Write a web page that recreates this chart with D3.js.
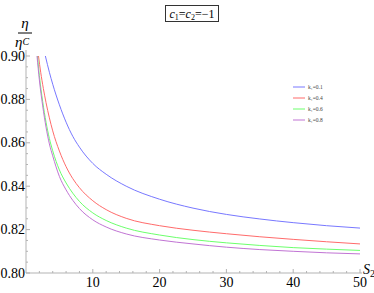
<!DOCTYPE html>
<html>
<head>
<meta charset="utf-8">
<script src="https://cdn.jsdelivr.net/npm/d3@7"></script>
<style>
  body { margin: 0; background: #fff; }
</style>
</head>
<body>
<div id="chart"></div>
<script>
// ---------------- data ----------------
const seriesNames = ["k\u2081=0.1", "k\u2081=0.4", "k\u2081=0.6", "k\u2081=0.8"]
const seriesColors = ["#7878ff", "#ff6b6b", "#6cff6c", "#c174d4"]

const s2_k01 = [2.9, 3.5, 4, 5, 6, 7, 8, 10, 12, 15, 20, 25, 30, 35, 40, 45, 50]
const eta_k01 = [0.900, 0.8925, 0.887, 0.8775, 0.8695, 0.8630, 0.8580, 0.8505, 0.8455, 0.8400, 0.8340, 0.8299, 0.8270, 0.8249, 0.8232, 0.8218, 0.8207]

const s2_k04 = [1.87, 2.2, 2.6, 3, 3.5, 4, 5, 6, 7, 8, 10, 12, 15, 20, 25, 30, 35, 40, 45, 50]
const eta_k04 = [0.900, 0.8925, 0.885, 0.8785, 0.8715, 0.8655, 0.8562, 0.8490, 0.8435, 0.8393, 0.8333, 0.8292, 0.8252, 0.8218, 0.8197, 0.8181, 0.8167, 0.8155, 0.8144, 0.8134]

const s2_k06 = [1.72, 2, 2.5, 3, 3.5, 4, 5, 6, 7, 8, 10, 12, 15, 20, 25, 30, 35, 40, 45, 50]
const eta_k06 = [0.900, 0.891, 0.879, 0.8695, 0.862, 0.8563, 0.8475, 0.8415, 0.8368, 0.8330, 0.8277, 0.8242, 0.8207, 0.8175, 0.8154, 0.8139, 0.8127, 0.8117, 0.8110, 0.8104]

const s2_k08 = [1.65, 2, 2.5, 3, 3.5, 4, 5, 6, 7, 8, 10, 12, 15, 20, 25, 30, 35, 40, 45, 50]
const eta_k08 = [0.900, 0.889, 0.877, 0.8672, 0.8595, 0.854, 0.8445, 0.8383, 0.8335, 0.8297, 0.8245, 0.8212, 0.8180, 0.8152, 0.8134, 0.8119, 0.8108, 0.8100, 0.8093, 0.8088]

const xTicks = [10, 20, 30, 40, 50]
const yTicks = [0.80, 0.82, 0.84, 0.86, 0.88, 0.90]

// ---------------- layout ----------------
const WIDTH = 374
const HEIGHT = 293
const X0 = 26, X1 = 360
const Y_TOP = 56, Y_BOT = 273

const svg = d3.select("#chart").append("svg")
  .attr("width", WIDTH)
  .attr("height", HEIGHT)
  .attr("font-family", "Liberation Serif, Times New Roman, serif")

const x = d3.scaleLinear().domain([0, 50]).range([X0, X1])
const y = d3.scaleLinear().domain([0.80, 0.90]).range([Y_BOT, Y_TOP])

const axisColor = "#b3b3b3"

// clip so the curves stop at the frame
svg.append("clipPath").attr("id", "clip")
  .append("rect").attr("x", X0).attr("y", Y_TOP - 4).attr("width", X1 - X0 + 2).attr("height", Y_BOT - Y_TOP + 4)

// axes lines
svg.append("line").attr("x1", X0).attr("x2", X1 + 2).attr("y1", Y_BOT).attr("y2", Y_BOT)
  .attr("stroke", axisColor).attr("stroke-width", 1)
svg.append("line").attr("x1", X0).attr("x2", X0).attr("y1", Y_BOT).attr("y2", Y_TOP - 6)
  .attr("stroke", axisColor).attr("stroke-width", 1)

// minor + major ticks, pointing into the plot
const xMinor = d3.range(2, 51, 2)
svg.selectAll(".xminor").data(xMinor).enter().append("line")
  .attr("x1", d => x(d)).attr("x2", d => x(d))
  .attr("y1", Y_BOT).attr("y2", d => Y_BOT - (d % 10 === 0 ? 4 : 2))
  .attr("stroke", axisColor)
const yMinor = d3.range(0.80, 0.9001, 0.005)
svg.selectAll(".yminor").data(yMinor).enter().append("line")
  .attr("y1", d => y(d)).attr("y2", d => y(d))
  .attr("x1", X0).attr("x2", d => X0 + (Math.abs(Math.round(d * 1000) % 20) === 0 ? 4 : 2))
  .attr("stroke", axisColor)

// tick labels
svg.selectAll(".xlab").data(xTicks).enter().append("text")
  .attr("x", d => x(d)).attr("y", Y_BOT + 14)
  .attr("text-anchor", "middle").attr("font-size", 14)
  .text(d => d)
svg.selectAll(".ylab").data(yTicks).enter().append("text")
  .attr("x", X0 - 1).attr("y", d => y(d) + 4.5)
  .attr("text-anchor", "end").attr("font-size", 14)
  .text(d => d.toFixed(2))

// axis titles
svg.append("text").attr("x", X1 + 3).attr("y", Y_BOT + 1)
  .attr("font-size", 14).attr("font-style", "italic")
  .html('S<tspan font-size="10" dy="3" font-style="normal">2</tspan>')

svg.append("text").attr("x", 25).attr("y", 28).attr("text-anchor", "middle")
  .attr("font-size", 15).attr("font-style", "italic").text("\u03b7")
svg.append("line").attr("x1", 18).attr("x2", 32).attr("y1", 33).attr("y2", 33)
  .attr("stroke", "#000").attr("stroke-width", 1)
svg.append("text").attr("x", 22).attr("y", 47).attr("text-anchor", "middle")
  .attr("font-size", 15).attr("font-style", "italic")
  .html('\u03b7<tspan font-size="10" dy="-2">C</tspan>')

// title box
const title = svg.append("text").attr("x", 192).attr("y", 18).attr("text-anchor", "middle")
  .attr("font-size", 12)
title.append("tspan").attr("font-style", "italic").text("c")
title.append("tspan").attr("font-size", 8).attr("dy", 2).text("1")
title.append("tspan").attr("dy", -2).text("=")
title.append("tspan").attr("font-style", "italic").text("c")
title.append("tspan").attr("font-size", 8).attr("dy", 2).text("2")
title.append("tspan").attr("dy", -2).text("=\u22121")
svg.append("rect").attr("x", 165.5).attr("y", 5.5).attr("width", 53).attr("height", 16)
  .attr("fill", "none").attr("stroke", "#333").attr("stroke-width", 1)

// curves
const series = [
  { s: s2_k01, v: eta_k01 },
  { s: s2_k04, v: eta_k04 },
  { s: s2_k06, v: eta_k06 },
  { s: s2_k08, v: eta_k08 }
]
const line = d3.line()
  .x(d => x(d[0]))
  .y(d => y(d[1]))
  .curve(d3.curveMonotoneX)

series.forEach(function (ser, i) {
  const pts = ser.s.map((s, j) => [s, ser.v[j]])
  svg.append("path")
    .attr("d", line(pts))
    .attr("fill", "none")
    .attr("stroke", seriesColors[i])
    .attr("stroke-width", 1)
    .attr("clip-path", "url(#clip)")
})

// legend
const legend = svg.append("g").attr("transform", "translate(293,87)")
seriesNames.forEach(function (name, i) {
  const g = legend.append("g").attr("transform", `translate(0,${i * 11})`)
  g.append("line").attr("x1", 0).attr("x2", 12).attr("y1", 0).attr("y2", 0)
    .attr("stroke", seriesColors[i]).attr("stroke-width", 1)
  g.append("text").attr("x", 15).attr("y", 2).attr("font-size", 5.5)
    .attr("fill", "#444").text(name)
})
</script>
</body>
</html>
